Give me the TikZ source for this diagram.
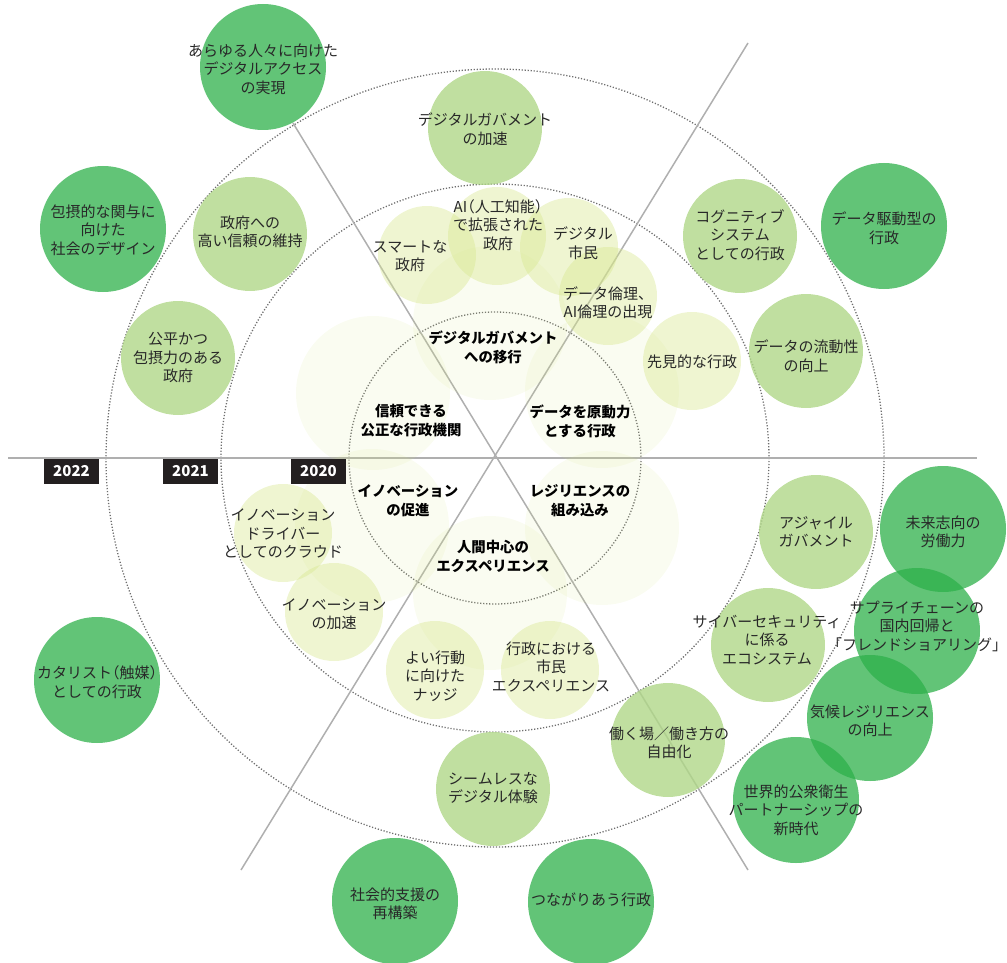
\documentclass[tikz,border=0pt]{standalone}
\usepackage{fontspec}
\setmainfont{Noto Sans CJK JP}
\usepackage{tikz}
\definecolor{dkgreen}{RGB}{45,176,74}
\definecolor{ltgreen}{RGB}{176,215,136}
\definecolor{plgreen}{RGB}{214,230,140}
\definecolor{axisgray}{RGB}{175,175,175}
\definecolor{ringgray}{RGB}{110,110,110}
\definecolor{txtgray}{RGB}{40,40,40}
\definecolor{yearbox}{RGB}{35,31,32}

\begin{document}
\begin{tikzpicture}[x=1pt,y=-1pt,
  dark/.style={fill=dkgreen,fill opacity=0.75},
  light/.style={fill=ltgreen,fill opacity=0.8},
  pale/.style={fill=plgreen,fill opacity=0.4},
  core/.style={fill=plgreen,fill opacity=0.12},
  ring/.style={draw=ringgray,line width=1.3pt,dash pattern=on 1.2pt off 1.8pt},
  axis/.style={draw=axisgray,line width=1.5pt},
  lbl/.style={align=center,text=txtgray,inner sep=0pt,font=\fontsize{15}{18.5}\selectfont},
  half/.style={font=\fontsize{15}{18.5}\selectfont\addfontfeature{RawFeature={+halt}}},
  theme/.style={align=center,inner sep=0pt,font=\bfseries\fontsize{14.4}{19}\selectfont},
  year/.style={fill=yearbox,text=white,inner sep=0pt,minimum width=55pt,minimum height=25pt,font=\bfseries\fontsize{15}{15}\selectfont}]
\useasboundingbox (0,0) rectangle (1007,963);

\coordinate (o) at (495,458);
\draw[ring] (o) circle[radius=146];
\draw[ring] (o) circle[radius=274];
\draw[ring] (o) circle[radius=389];

\coordinate (w) at (8,458);
\coordinate (e) at (977,458);
\coordinate (ne) at (748,43);
\coordinate (sw) at (241,870);
\coordinate (nw) at (293,123);
\coordinate (se) at (748,870);
\draw[axis] (w) -- (e);
\draw[axis] (sw) -- (ne);
\draw[axis] (nw) -- (se);

% 2020
\fill[core] (490,323) circle[radius=77];
\fill[core] (373,393) circle[radius=77];
\fill[core] (602,391) circle[radius=77];
\fill[core] (372,526) circle[radius=77];
\fill[core] (602,528) circle[radius=77];
\fill[core] (490,593) circle[radius=77];

\fill[pale] (427,255) circle[radius=49];
\fill[pale] (497,236) circle[radius=49];
\fill[pale] (569,247) circle[radius=49];
\fill[pale] (608,296) circle[radius=49];
\fill[pale] (692,361) circle[radius=49];
\fill[pale] (283,533) circle[radius=49];
\fill[pale] (334,612) circle[radius=49];
\fill[pale] (435,670) circle[radius=49];
\fill[pale] (550,670) circle[radius=49];

% 2021
\fill[light] (485,128) circle[radius=57];
\fill[light] (250,234) circle[radius=57];
\fill[light] (178,358) circle[radius=57];
\fill[light] (740,236) circle[radius=57];
\fill[light] (806,351) circle[radius=57];
\fill[light] (816,532) circle[radius=57];
\fill[light] (768,645) circle[radius=57];
\fill[light] (668,740) circle[radius=57];
\fill[light] (493,789) circle[radius=57];

% 2022
\fill[dark] (263,67) circle[radius=63];
\fill[dark] (103,229) circle[radius=63];
\fill[dark] (884,226) circle[radius=63];
\fill[dark] (943,529) circle[radius=63];
\fill[dark] (917,631) circle[radius=63];
\fill[dark] (870,718) circle[radius=63];
\fill[dark] (796,800) circle[radius=63];
\fill[dark] (591,902) circle[radius=63];
\fill[dark] (395,901) circle[radius=63];
\fill[dark] (97,680) circle[radius=63];

\node[theme] (digitalshift) at (493,347) {デジタルガバメント\\への移行};
\node[theme] (trust) at (411,421) {信頼できる\\公正な行政機関};
\node[theme] (datadrive) at (580,421) {データを原動力\\とする行政};
\node[theme] (innov) at (408,501) {イノベーション\\の促進};
\node[theme] (resil) at (580,501) {レジリエンスの\\組み込み};
\node[theme] (human) at (493,556) {人間中心の\\エクスペリエンス};

\node[lbl] (smart) at (410,256) {スマートな\\政府};
\node[lbl,half] (aigov) at (498,225) {AI（人工知能）\\で拡張された\\政府};
\node[lbl] (citizen) at (583,243) {デジタル\\市民};
\node[lbl] (ethics) at (608,303) {データ倫理、\\AI倫理の出現};
\node[lbl] (foresight) at (692,362) {先見的な行政};
\node[lbl] (cloud) at (283,534) {イノベーション\\ドライバー\\としてのクラウド};
\node[lbl] (accel) at (334,614) {イノベーション\\の加速};
\node[lbl] (nudge) at (435,676) {よい行動\\に向けた\\ナッジ};
\node[lbl] (cx) at (551,667) {行政における\\市民\\エクスペリエンス};

\node[lbl] (dgaccel) at (485,129) {デジタルガバメント\\の加速};
\node[lbl] (hightrust) at (250,232) {政府への\\高い信頼の維持};
\node[lbl] (fair) at (178,358) {公平かつ\\包摂力のある\\政府};
\node[lbl] (cognitive) at (740,235) {コグニティブ\\システム\\としての行政};
\node[lbl] (fluidity) at (806,356) {データの流動性\\の向上};
\node[lbl] (agile) at (816,532) {アジャイル\\ガバメント};
\node[lbl] (cyber) at (767,640) {サイバーセキュリティ\\に係る\\エコシステム};
\node[lbl] (work) at (669,743) {働く場／働き方の\\自由化};
\node[lbl] (seamless) at (493,788) {シームレスな\\デジタル体験};

\node[lbl] (access) at (263,69) {あらゆる人々に向けた\\デジタルアクセス\\の実現};
\node[lbl] (inclusive) at (103,230) {包摂的な関与に\\向けた\\社会のデザイン};
\node[lbl] (datagov) at (884,228) {データ駆動型の\\行政};
\node[lbl] (workforce) at (943,532) {未来志向の\\労働力};
\node[lbl] (supply) at (917,626) {サプライチェーンの\\国内回帰と\\「フレンドショアリング」};
\node[lbl] (climate) at (870,721) {気候レジリエンス\\の向上};
\node[lbl] (health) at (796,810) {世界的公衆衛生\\パートナーシップの\\新時代};
\node[lbl] (connected) at (591,900) {つながりあう行政};
\node[lbl] (social) at (395,904) {社会的支援の\\再構築};
\node[lbl,half] (catalyst) at (97,682) {カタリスト（触媒）\\としての行政};

\node[year] (y22) at (71.5,471.5) {2022};
\node[year] (y21) at (190.5,471.5) {2021};
\node[year] (y20) at (318.5,471.5) {2020};
\end{tikzpicture}
\end{document}
